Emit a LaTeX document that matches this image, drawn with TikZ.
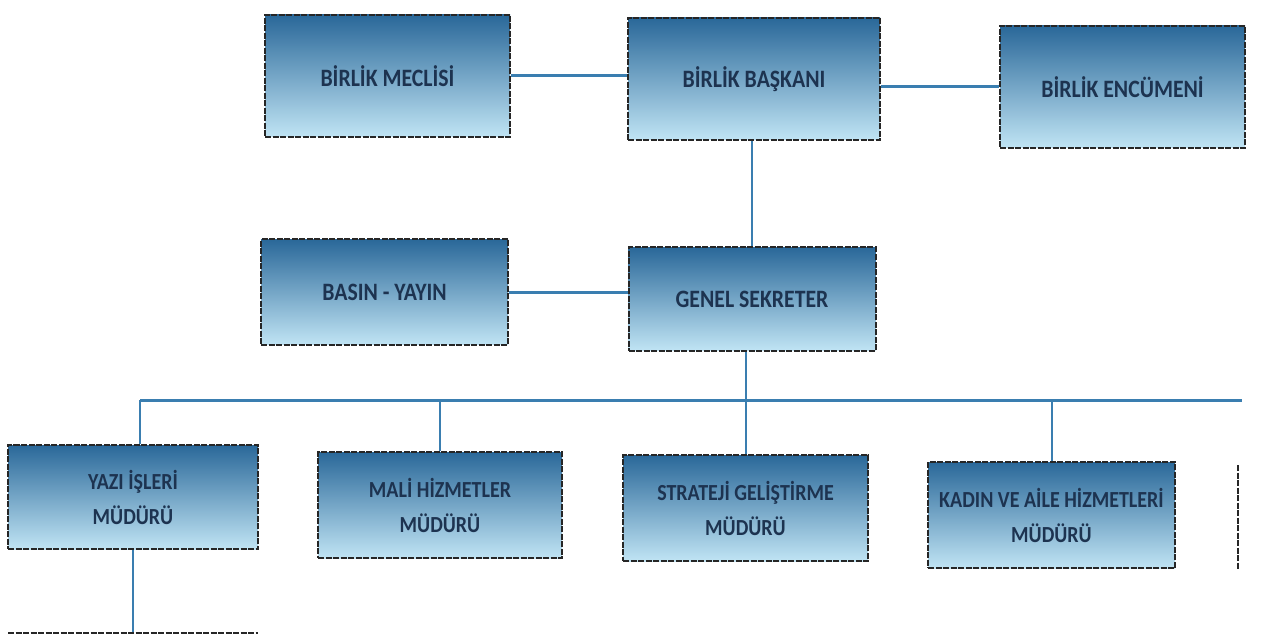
\documentclass[tikz,border=0pt]{standalone}
\usepackage{fontspec}
\setmainfont{Carlito}[FakeStretch=0.87]
\definecolor{boxtop}{HTML}{2A6899}
\definecolor{boxmid}{HTML}{6CA7CB}
\definecolor{boxbot}{HTML}{C0E4F4}
\definecolor{txt}{HTML}{1D3350}
\definecolor{ln}{HTML}{3A7EB0}
\begin{document}
\begin{tikzpicture}[x=1pt,y=-1pt,
  box/.style={draw=black!85, line width=2pt, dash pattern=on 6pt off 1.5pt,
    top color=boxtop, middle color=boxmid, bottom color=boxbot,
    inner sep=0pt, text=txt, align=center},
  big/.style={box, font=\bfseries\fontsize{25}{28}\selectfont},
  small/.style={box, font=\bfseries\fontsize{23}{35}\selectfont},
  conn/.style={draw=ln, line width=3pt},
  vconn/.style={draw=ln, line width=2pt},
  cut/.style={draw=black!85, line width=2pt, dash pattern=on 6pt off 1.5pt}]
\useasboundingbox (0,0) rectangle (1265,636);
% top row
\node[big, minimum width=245pt, minimum height=122pt] (mec) at (387.5,76) {BİRLİK MECLİSİ};
\node[big, minimum width=252pt, minimum height=122pt] (bas) at (754,79) {BİRLİK BAŞKANI};
\node[big, minimum width=245pt, minimum height=122pt] (enc) at (1122.5,87) {BİRLİK ENCÜMENİ};
% middle row
\node[big, minimum width=247pt, minimum height=105pt] (bsn) at (384.5,292) {BASIN - YAYIN};
\node[big, minimum width=247pt, minimum height=103pt] (gen) at (752,299) {GENEL SEKRETER};
% bottom row
\node[small, minimum width=250pt, minimum height=104pt] (yaz) at (133,497) {YAZI İŞLERİ\\MÜDÜRÜ};
\node[small, minimum width=244pt, minimum height=106pt] (mal) at (440,505) {MALİ HİZMETLER\\MÜDÜRÜ};
\node[small, minimum width=245pt, minimum height=106pt] (str) at (745.5,508) {STRATEJİ GELİŞTİRME\\MÜDÜRÜ};
\node[small, minimum width=247pt, minimum height=106pt] (kad) at (1051.5,515) {KADIN VE AİLE HİZMETLERİ\\MÜDÜRÜ};
% bus and cut-off parts
\coordinate (busL) at (140,400);
\coordinate (busR) at (1242,400);
\coordinate (cutTop) at (1238,465);
\coordinate (cutBot) at (1238,570);
\coordinate (botL) at (8,633);
\coordinate (botR) at (258,633);
% connectors
\draw[conn] (mec.east) -- (mec.east -| bas.west);
\draw[conn] (bas.east |- enc.west) -- (enc.west);
\draw[conn] (bsn.east) -- (bsn.east -| gen.west);
\draw[vconn] (bas.south -| gen.north) -- (gen.north);
\draw[conn] (busL) -- (busR);
\draw[vconn] (gen.south -| str.north) -- (str.north);
\draw[vconn] (busL) -- (busL |- yaz.north);
\draw[vconn] (mal.north |- busL) -- (mal.north);
\draw[vconn] (kad.north |- busL) -- (kad.north);
\draw[vconn] (yaz.south) -- (yaz.south |- botL);
\draw[cut] (cutTop) -- (cutBot);
\draw[cut] (botL) -- (botR);
\end{tikzpicture}
\end{document}
